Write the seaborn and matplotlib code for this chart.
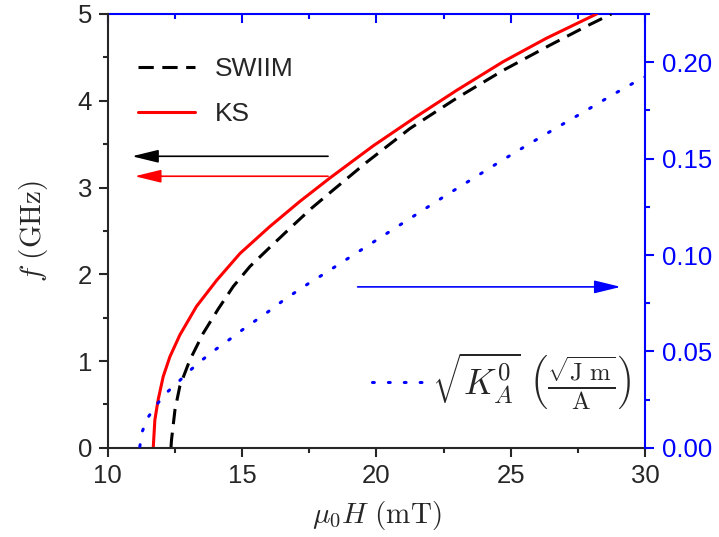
import numpy as np
import pandas as pd
import seaborn as sns
import matplotlib
matplotlib.use("Agg")
import matplotlib.pyplot as plt
from matplotlib.ticker import MultipleLocator, FormatStrFormatter

# field (mT) and frequency (GHz)
h_swiim = [12.35, 12.37, 12.5, 12.68, 13.05, 13.55, 14.11, 14.67, 15.29, 16.03, 16.78,
           17.58, 18.27, 19.63, 21.25, 22.99, 24.72, 26.46, 27.83, 28.75]
f_swiim = [0.0, 0.09, 0.44, 0.71, 1.01, 1.32, 1.60, 1.86, 2.09, 2.31, 2.53,
           2.76, 2.94, 3.29, 3.68, 4.03, 4.35, 4.64, 4.86, 5.0]

h_ks = [11.69, 11.75, 11.87, 12.06, 12.31, 12.68, 13.30, 14.05, 14.92, 16.03, 17.15,
        18.27, 19.88, 21.50, 22.99, 24.72, 26.33, 28.2]
f_ks = [0.0, 0.32, 0.55, 0.82, 1.05, 1.30, 1.63, 1.93, 2.24, 2.55, 2.84,
        3.11, 3.48, 3.82, 4.12, 4.45, 4.72, 5.0]

# sqrt(K_A^0), right axis
h_ka = [11.19, 11.29, 11.50, 11.84, 12.21, 12.66, 13.08, 13.55, 14.02, 14.51, 15.00,
        15.50, 15.97, 16.47, 16.96, 17.48, 17.98, 22.55, 23.6, 24.6, 25.65, 26.71,
        27.77, 28.82, 29.88, 30.0]
ka = [0.0007, 0.0088, 0.0159, 0.0228, 0.0289, 0.0347, 0.0404, 0.0460, 0.0511, 0.0560, 0.0611,
      0.0660, 0.0706, 0.0758, 0.0805, 0.0853, 0.0896, 0.1306, 0.1397, 0.1484, 0.1573, 0.166,
      0.1746, 0.1833, 0.1916, 0.1924]

# arrows (data coords): start, end
arrow_black = ((18.2, 3.36), (10.9, 3.36))
arrow_red = ((18.2, 3.13), (11.0, 3.13))
arrow_blue = ((19.3, 1.855), (29.1, 1.855))

sns.set_style("ticks")
plt.rcParams["font.family"] = ["Liberation Sans", "DejaVu Sans"]
plt.rcParams["mathtext.fontset"] = "cm"
plt.rcParams["font.size"] = 18

fig = plt.figure(figsize=(7.19, 5.37), dpi=100)
ax = fig.add_axes([0.150, 0.166, 0.747, 0.808])

df_s = pd.DataFrame({"H": h_swiim, "f": f_swiim})
df_k = pd.DataFrame({"H": h_ks, "f": f_ks})
df_a = pd.DataFrame({"H": h_ka, "K": ka})

sns.lineplot(data=df_s, x="H", y="f", ax=ax, color="black", lw=2.2,
             linestyle=(0, (5.0, 2.8)), label="SWIIM", sort=False)
sns.lineplot(data=df_k, x="H", y="f", ax=ax, color="red", lw=2.2,
             label="KS", sort=False)

ax2 = ax.twinx()
sns.lineplot(data=df_a, x="H", y="K", ax=ax2, color="blue", lw=2.2,
             linestyle=(0, (0.6, 4.6)), dash_capstyle="round", sort=False,
             label=r"$\sqrt{K_A^0}\ \left(\frac{\sqrt{\mathrm{J\ m}}}{\mathrm{A}}\right)$")

ax.set_xlim(10, 30)
ax.set_ylim(0, 5)
ax2.set_ylim(0, 0.225)

ax.xaxis.set_major_locator(MultipleLocator(5))
ax.xaxis.set_minor_locator(MultipleLocator(2.5))
ax.yaxis.set_major_locator(MultipleLocator(1))
ax.yaxis.set_minor_locator(MultipleLocator(0.5))
ax2.yaxis.set_major_locator(MultipleLocator(0.05))
ax2.yaxis.set_minor_locator(MultipleLocator(0.025))
ax2.yaxis.set_major_formatter(FormatStrFormatter("%.2f"))

ax.tick_params(which="major", direction="out", length=6.5, width=1.5, labelsize=18.5, pad=5)
ax.tick_params(which="minor", direction="out", length=3.6, width=1.5)
ax2.tick_params(which="major", direction="out", length=6.5, width=1.5, labelsize=18.5,
                colors="blue", pad=6)
ax2.tick_params(which="minor", direction="out", length=3.6, width=1.5, colors="blue")

top = ax.secondary_xaxis("top")
top.xaxis.set_major_locator(MultipleLocator(5))
top.xaxis.set_minor_locator(MultipleLocator(2.5))
top.tick_params(which="major", direction="in", length=6.5, width=1.5, colors="blue",
                labeltop=False)
top.tick_params(which="minor", direction="in", length=3.6, width=1.5, colors="blue")
top.spines["top"].set_color("blue")
top.spines["top"].set_linewidth(1.5)

for s in ["left", "bottom"]:
    ax.spines[s].set_linewidth(1.5)
ax2.spines["right"].set_color("blue")
ax2.spines["right"].set_linewidth(1.5)
ax2.spines["top"].set_visible(False)
ax.spines["top"].set_visible(False)
ax2.spines["left"].set_visible(False)
ax2.spines["bottom"].set_visible(False)
ax.spines["right"].set_visible(False)

ax.set_xlabel(r"$\mu_0 H\ (\mathrm{mT})$", fontsize=21, labelpad=8)
ax.set_ylabel(r"$f\ (\mathrm{GHz})$", fontsize=21, labelpad=20)
ax2.set_ylabel("")

ax.legend(loc="upper left", bbox_to_anchor=(0.056, 0.9), frameon=False, borderpad=0,
          borderaxespad=0, fontsize=19, handlelength=2.16, handletextpad=0.76,
          labelspacing=0.78)
ax2.legend(loc="center right", bbox_to_anchor=(0.975, 0.154), frameon=False, borderpad=0,
           borderaxespad=0, fontsize=25.5, handlelength=1.6, handletextpad=0.08)

for (x0, y0), (x1, y1), c in [(arrow_black[0], arrow_black[1], "black"),
                              (arrow_red[0], arrow_red[1], "red"),
                              (arrow_blue[0], arrow_blue[1], "blue")]:
    ax.annotate("", xy=(x1, y1), xytext=(x0, y0),
                arrowprops=dict(arrowstyle="-|>,head_length=0.9,head_width=0.22",
                                color=c, lw=1.2, shrinkA=0, shrinkB=0))

fig.savefig("out.png", dpi=100)
